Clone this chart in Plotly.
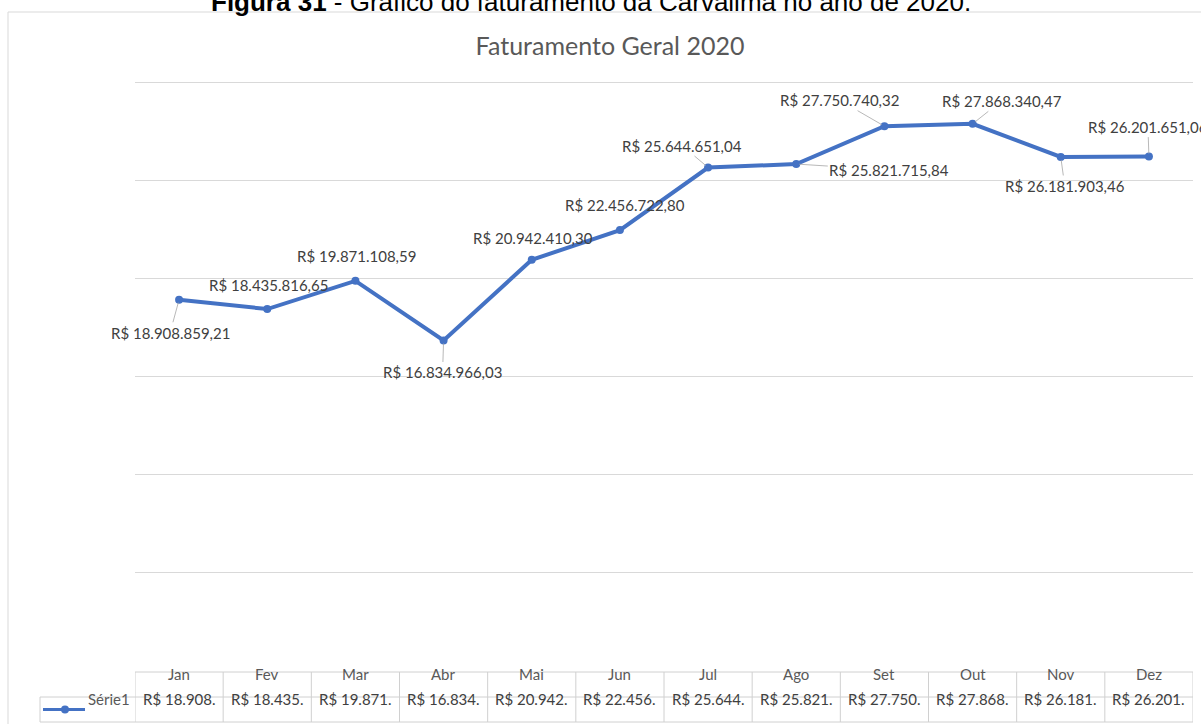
import plotly.graph_objects as go

# Monthly revenue, 2020
months = ["Jan", "Fev", "Mar", "Abr", "Mai", "Jun", "Jul", "Ago", "Set", "Out", "Nov", "Dez"]
revenue = [
    18908859.21, 18435816.65, 19871108.59, 16834966.03, 20942410.30, 22456722.80,
    25644651.04, 25821715.84, 27750740.32, 27868340.47, 26181903.46, 26201651.06,
]
series_name = "Série1"
chart_title = "Faturamento Geral 2020"
caption_bold = "Figura 31"
caption_rest = " - Gráfico do faturamento da Carvalima no ano de 2020."

# Label placement (pixel offset of the label centre from its point, leader line on/off)
label_offsets = [
    (-9, 33, True), (1, -24, False), (1, -25, False), (-1, 32, True),
    (1, -22, False), (5, -25, False), (-26, -22, True), (93, 6, True),
    (-45, -26, True), (29, -23, True), (4, 29, True), (-1, -30, True),
]

W, H = 1201, 724
BLUE = "#4472C4"
GRID = "#D9D9D9"
TABLE_LINE = "#D0D0D0"
TEXT = "#404040"
FONT = "Lato"


def px(x):
    return x / W


def py(y):
    return 1 - y / H


def brl(v):
    s = f"{v:,.2f}"
    s = s.replace(",", "X").replace(".", ",").replace("X", ".")
    return "R$ " + s


fig = go.Figure()
fig.add_trace(go.Scatter(
    x=list(range(len(months))), y=revenue, mode="lines+markers",
    line=dict(color=BLUE, width=4),
    marker=dict(size=8, color=BLUE),
    hoverinfo="skip", showlegend=False,
))

annotations = []
for i, (v, (dx, dy, leader)) in enumerate(zip(revenue, label_offsets)):
    common = dict(x=i, y=v, xref="x", yref="y", text=brl(v),
                  font=dict(family=FONT, size=15, color=TEXT))
    if leader:
        annotations.append(dict(**common, showarrow=True, ax=dx, ay=dy,
                                arrowhead=0, arrowwidth=0.8, arrowcolor="#A6A6A6",
                                standoff=3))
    else:
        annotations.append(dict(**common, showarrow=False, xshift=dx, yshift=-dy))

# Data table under the chart
hdr_top, hdr_bot, row_bot = 672, 697, 722
tbl_left, key_left, tbl_right = 135, 40, 1193
for i, (m, v) in enumerate(zip(months, revenue)):
    annotations.append(dict(x=i, y=py((hdr_top + hdr_bot) / 2), xref="x", yref="paper",
                            text=m, showarrow=False,
                            font=dict(family=FONT, size=15, color="#595959")))
    annotations.append(dict(x=i, y=py((hdr_bot + row_bot) / 2), xref="x", yref="paper",
                            text=brl(v)[:10], showarrow=False,
                            font=dict(family=FONT, size=15, color=TEXT)))
annotations.append(dict(x=px(86), y=py((hdr_bot + row_bot) / 2), xref="paper", yref="paper",
                        xanchor="left", text=series_name, showarrow=False,
                        font=dict(family=FONT, size=15, color="#595959")))

# Caption above the chart frame
annotations.append(dict(x=px(591), y=py(2.5), xref="paper", yref="paper",
                        xanchor="center", yanchor="middle", showarrow=False,
                        text=f"<b>{caption_bold}</b>{caption_rest}",
                        font=dict(family="Liberation Sans", size=26, color="#000000")))

shapes = []
# chart frame
shapes.append(dict(type="rect", xref="paper", yref="paper",
                   x0=px(8), x1=px(1215), y0=py(12), y1=py(740),
                   line=dict(color=GRID, width=1)))
# table rules
shapes.append(dict(type="line", xref="paper", yref="paper", x0=px(tbl_left), x1=px(tbl_right),
                   y0=py(hdr_top), y1=py(hdr_top), line=dict(color=TABLE_LINE, width=1)))
for yy in (hdr_bot, row_bot):
    shapes.append(dict(type="line", xref="paper", yref="paper", x0=px(key_left), x1=px(tbl_right),
                       y0=py(yy), y1=py(yy), line=dict(color=TABLE_LINE, width=1)))
for i in range(len(months) + 1):
    shapes.append(dict(type="line", xref="x", yref="paper", x0=i - 0.5, x1=i - 0.5,
                       y0=py(hdr_top), y1=py(row_bot), line=dict(color=TABLE_LINE, width=1)))
shapes.append(dict(type="line", xref="paper", yref="paper", x0=px(key_left), x1=px(key_left),
                   y0=py(hdr_bot), y1=py(row_bot), line=dict(color=TABLE_LINE, width=1)))
# legend key inside the table
key_y = py((hdr_bot + row_bot) / 2)
shapes.append(dict(type="line", xref="paper", yref="paper", x0=px(43), x1=px(85),
                   y0=key_y, y1=key_y, line=dict(color=BLUE, width=3)))
shapes.append(dict(type="circle", xref="paper", yref="paper",
                   x0=px(61), x1=px(69), y0=key_y - 4 / H, y1=key_y + 4 / H,
                   fillcolor=BLUE, line=dict(color=BLUE, width=0)))

# value axis: 0 sits at y=671 px, 30 M at y=82 px; the domain runs a little higher
# so the top gridline is drawn
y_zero_px, y_top_px, dom_top_px = 671, 82, 78
y_max = 30e6 * (y_zero_px - dom_top_px) / (y_zero_px - y_top_px)

fig.update_layout(
    width=W, height=H,
    margin=dict(l=0, r=0, t=0, b=0),
    paper_bgcolor="white", plot_bgcolor="white",
    title=dict(text=chart_title, x=px(610), xanchor="center", y=py(46), yanchor="middle",
               font=dict(family=FONT, size=25, color="#595959")),
    xaxis=dict(domain=[px(tbl_left), px(tbl_right)], range=[-0.5, len(months) - 0.5],
               showticklabels=False, showgrid=False, zeroline=False, showline=False),
    yaxis=dict(domain=[py(y_zero_px), py(dom_top_px)], range=[0, y_max], dtick=5e6,
               showticklabels=False, showgrid=True, gridcolor=GRID, gridwidth=1,
               zeroline=False, showline=False),
    annotations=annotations,
    shapes=shapes,
    showlegend=False,
)

fig.write_html("out.html")
